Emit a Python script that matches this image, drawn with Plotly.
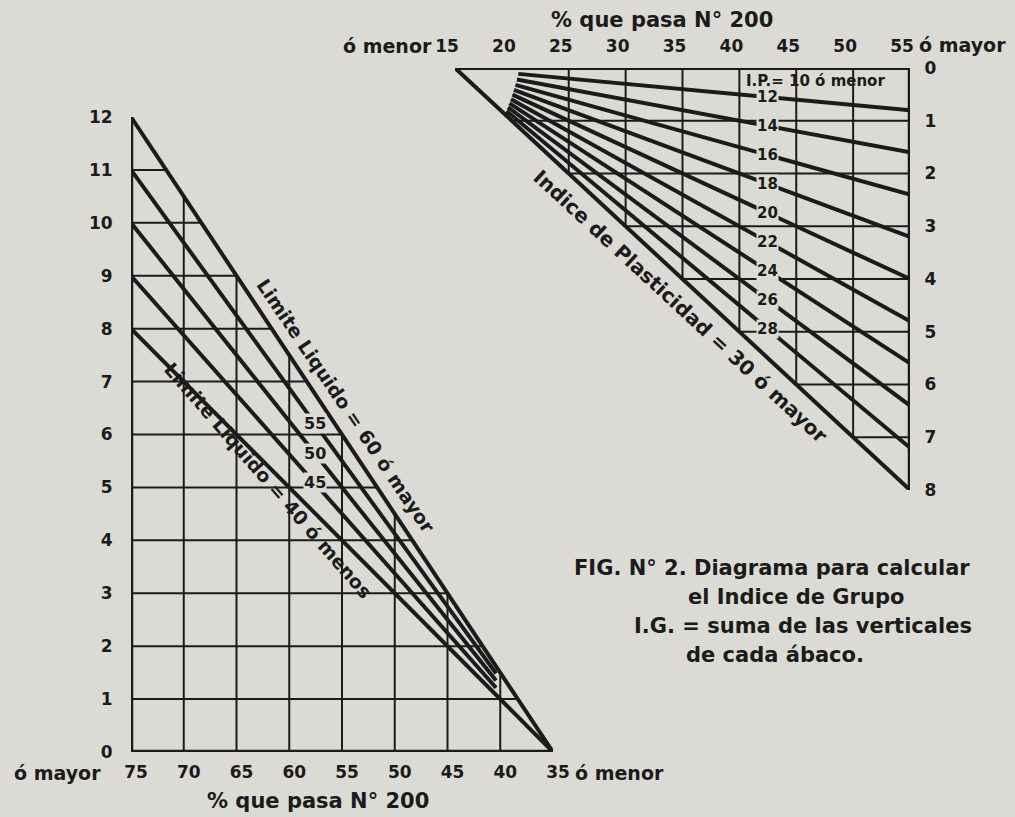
import plotly.graph_objects as go

W, H = 1015, 817
BG = "#dcdad5"
INK = "#1b1b1b"
FONT = "DejaVu Sans"

# ---------------- data ----------------
# Left abacus: liquid limit lines (value reached at 75 % passing)
ll_values = [40, 45, 50, 55, 60]
ll_at_75 = [8, 9, 10, 11, 12]
left_x_ticks = [75, 70, 65, 60, 55, 50, 45, 40, 35]
left_y_ticks = list(range(0, 13))

# Right abacus: plasticity index lines (value reached at 55 % passing)
pi_values = [10, 12, 14, 16, 18, 20, 22, 24, 26, 28, 30]
pi_at_55 = [0, 0.8, 1.6, 2.4, 3.2, 4.0, 4.8, 5.6, 6.4, 7.2, 8.0]
right_x_ticks = [15, 20, 25, 30, 35, 40, 45, 50, 55]
right_y_ticks = list(range(0, 9))

caption_lines = ["FIG. N° 2. Diagrama para calcular", "el Indice de Grupo",
                 "I.G. = suma de las verticales", "de cada ábaco."]


# ---------------- helpers ----------------
def px_x(p):
    return p / W


def px_y(p):
    return 1 - p / H


fig = go.Figure()


def seg(x, y, width, axes="left"):
    xa, ya = ("x", "y") if axes == "left" else ("x2", "y2")
    fig.add_trace(go.Scatter(x=x, y=y, mode="lines", xaxis=xa, yaxis=ya,
                             line=dict(color=INK, width=width),
                             hoverinfo="skip", showlegend=False))


# ---------------- left abacus ----------------
L_X0, L_X1 = 35, 75
top_slope = ll_at_75[-1] / (L_X1 - L_X0)
for xv in left_x_ticks[1:-1]:
    seg([xv, xv], [0, top_slope * (xv - L_X0)], 2)
for yv in left_y_ticks[1:-1]:
    seg([L_X1, L_X0 + yv / top_slope], [yv, yv], 2)
seg([L_X1, L_X1], [0, ll_at_75[-1]], 4.5)
seg([L_X1, L_X0], [0, 0], 4.5)
for i, (ll, v) in enumerate(zip(ll_values, ll_at_75)):
    x_start = L_X0 if i in (0, len(ll_values) - 1) else 40.4
    seg([x_start, L_X1], [v * (x_start - L_X0) / (L_X1 - L_X0), v], 4)

# ---------------- right abacus ----------------
R_X0, R_X1 = 15, 55
diag_slope = pi_at_55[-1] / (R_X1 - R_X0)
for xv in right_x_ticks[2:-1]:
    seg([xv, xv], [0, diag_slope * (xv - R_X0)], 2, "right")
for yv in right_y_ticks[1:-1]:
    seg([R_X0 + yv / diag_slope, R_X1], [yv, yv], 2, "right")
seg([R_X1, R_X1], [0, pi_at_55[-1]], 4.5, "right")
for i, (pi, v) in enumerate(zip(pi_values, pi_at_55)):
    if i in (0, len(pi_values) - 1):
        x_start = R_X0
    else:
        t = (pi - pi_values[0]) / (pi_values[-1] - pi_values[0])
        x_start = 20.7 - 1.3 * t
    seg([x_start, R_X1], [v * (x_start - R_X0) / (R_X1 - R_X0), v], 4, "right")

# ---------------- annotations ----------------
ann = []


def note(x, y, text, font, xanchor="center", **kw):
    d = dict(x=px_x(x), y=px_y(y), xref="paper", yref="paper", text=text,
             showarrow=False, font=font, xanchor=xanchor, yanchor="middle")
    d.update(kw)
    ann.append(d)


lab_font = dict(family=FONT, size=16, color=INK, weight="bold")
x_lab = 57.6
for ll, v in zip(ll_values[1:-1], ll_at_75[1:-1]):
    ann.append(dict(x=x_lab, y=v * (x_lab - L_X0) / (L_X1 - L_X0), xref="x", yref="y",
                    text=str(ll), showarrow=False, bgcolor=BG, font=lab_font,
                    xanchor="center", yanchor="middle", borderpad=0))
pi_font = dict(family=FONT, size=15, color=INK, weight="bold")
x_lab2 = 42.5
for pi, v in zip(pi_values[1:-1], pi_at_55[1:-1]):
    ann.append(dict(x=x_lab2, y=v * (x_lab2 - R_X0) / (R_X1 - R_X0), xref="x2", yref="y2",
                    text=str(pi), showarrow=False, bgcolor=BG, font=pi_font,
                    xanchor="center", yanchor="middle", borderpad=0))

note(346, 406, "Limite Liquido = 60 ó mayor",
     dict(family=FONT, size=19, color=INK, weight="bold"), textangle=56)
note(268, 480, "Limite Liquido = 40 ó menos",
     dict(family=FONT, size=19, color=INK, weight="bold"), textangle=49)
note(680, 306, "Indice de Plasticidad = 30 ó mayor",
     dict(family=FONT, size=20, color=INK, weight="bold"), textangle=42.7)
note(815, 81, "I.P.= 10 ó menor",
     dict(family=FONT, size=15, color=INK, weight="bold"))

tick_font = dict(family=FONT, size=17, color=INK, weight="bold")
end_font = dict(family=FONT, size=19, color=INK, weight="bold")
note(103, 773, "ó mayor", end_font, xanchor="right")
note(573, 773, "ó menor", end_font, xanchor="left")
note(434, 46, "ó menor", end_font, xanchor="right")
note(917, 45, "ó mayor", end_font, xanchor="left")

title_font = dict(family=FONT, size=21, color=INK, weight="bold")
note(318, 801, "% que pasa N° 200", title_font)
note(662, 20, "% que pasa N° 200", title_font)

cap_font = dict(family=FONT, size=21, color=INK, weight="bold")
cap_x = [572, 686, 632, 684]
cap_y = [568, 597, 626, 655]
for cx, cy, line in zip(cap_x, cap_y, caption_lines):
    note(cx, cy, line, cap_font, xanchor="left")

axis_common = dict(showgrid=False, zeroline=False, showline=False, automargin=False,
                   ticks="outside", tickcolor=BG, tickfont=tick_font)

fig.update_layout(
    width=W, height=H,
    margin=dict(l=0, r=0, t=0, b=0, pad=0, autoexpand=False),
    paper_bgcolor=BG, plot_bgcolor="rgba(0,0,0,0)",
    showlegend=False,
    annotations=ann,
    xaxis=dict(domain=[px_x(131), px_x(553)], range=[75, 35], anchor="y",
               tickvals=left_x_ticks, ticklen=5, ticklabelshift=-5, **axis_common),
    yaxis=dict(domain=[px_y(752), px_y(117)], range=[0, 12], anchor="x",
               tickvals=left_y_ticks, ticklen=14, **axis_common),
    xaxis2=dict(domain=[px_x(455), px_x(910)], range=[15, 55], anchor="y2",
                side="top", tickvals=right_x_ticks, ticklen=8, ticklabelshift=-8,
                **axis_common),
    yaxis2=dict(domain=[px_y(490), px_y(68)], range=[8, 0], anchor="x2",
                side="right", tickvals=right_y_ticks, ticklen=10, **axis_common),
)

fig.write_html(
    "out.html",
    config={"displayModeBar": False},
    post_script="document.body.style.margin='0';document.body.style.overflow='hidden';",
)
